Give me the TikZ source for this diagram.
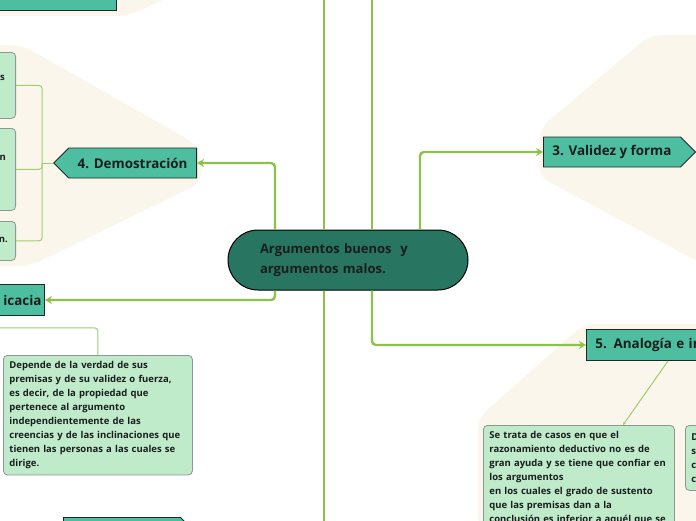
\documentclass[tikz,border=0pt]{standalone}
\usepackage{fontspec}
\setmainfont{Open Sans}
\usetikzlibrary{arrows.meta,shapes.symbols}
\definecolor{branchgreen}{RGB}{139,195,74}
\definecolor{subgreen}{RGB}{160,206,110}
\definecolor{topicteal}{RGB}{77,190,160}
\definecolor{rootgreen}{RGB}{40,117,98}
\definecolor{leafgreen}{RGB}{192,235,203}
\definecolor{leafborder}{RGB}{140,152,146}
\definecolor{cream}{RGB}{250,246,236}
\definecolor{darkline}{RGB}{30,40,36}
\definecolor{inktext}{RGB}{25,30,28}

\begin{document}
\begin{tikzpicture}[x=1pt, y=-1pt, >={Stealth[length=7pt,width=8pt]},
	rootbox/.style={draw=black, fill=rootgreen, line width=1pt, rounded corners=30pt,
		minimum width=240pt, minimum height=60pt, text width=176pt, align=left,
		font=\fontsize{13}{20}\selectfont\bfseries, text=inktext},
	topic/.style={draw=darkline, fill=topicteal, line width=0.9pt, minimum height=30pt,
		inner xsep=9pt, font=\fontsize{13.4}{15}\selectfont\bfseries, text=inktext},
	leaf/.style={draw=leafborder, fill=leafgreen, line width=0.8pt, rounded corners=4pt,
		align=left, inner sep=6pt, font=\fontsize{9.5}{14}\selectfont\bfseries, text=inktext},
	leaftext/.style={inner sep=0pt, font=\fontsize{9.5}{14}\selectfont\bfseries, text=inktext},
	branch/.style={draw=branchgreen, line width=2.4pt, rounded corners=4pt},
	sub/.style={draw=subgreen, line width=1pt, rounded corners=3pt},
	backdrop/.style={fill=cream, rounded corners=12pt}]

	\useasboundingbox (0,0) rectangle (696,520);
	\clip (0,0) rectangle (696,520);

	% 1. Cream backdrops of the groups
	\fill[backdrop] (-10,-10) -- (185,-10) -- (128,16) -- (-10,16) -- cycle;
	\fill[backdrop] (-10,45) -- (22,45) -- (198,145) -- (203,182) -- (30,266) -- (-10,266) -- cycle;
	\fill[backdrop] (710,35) -- (650,35) -- (540,128) -- (538,176) -- (710,268) -- cycle;
	\fill[backdrop] (710,324) -- (584,324) -- (478,418) -- (478,530) -- (710,530) -- cycle;

	% 2. Central idea
	\node[rootbox] (root) at (348,260) {Argumentos buenos\ \ y\\argumentos malos.};

	% 3. Main topics
	\node[topic, signal, signal to=west, anchor=east, minimum width=142pt] (demo) at (197,163) {4. Demostración};
	\node[topic, signal, signal to=east, anchor=west, minimum width=150pt] (valid) at (543,152) {3. Validez y forma};
	\node[topic, anchor=west, minimum height=31pt, text width=140pt, align=left] (anal) at (586,345) {5. Analogía e in};
	\node[topic, anchor=east, minimum height=31pt, text width=90pt, align=right, inner xsep=3pt] (efic) at (45,300) {icacia};
	\node[topic, anchor=south east, minimum width=150pt] (topleft) at (117,11) {};
	\node[topic, signal, signal to=east, anchor=north west, minimum width=132pt] (botleft) at (63,517) {};

	% 4. Leaves
	\node[leaf, anchor=north east, minimum width=60pt, minimum height=66pt] (leafA) at (16,52) {};
	\node[leaf, anchor=north east, minimum width=60pt, minimum height=82pt] (leafB) at (16,128) {};
	\node[leaf, anchor=north east, minimum width=60pt, minimum height=39pt] (leafC) at (16,221) {};
	\node[leaftext, anchor=east] (tailA) at (5,78) {s};
	\node[leaftext, anchor=east] (tailB) at (6,158) {n};
	\node[leaftext, anchor=east] (tailC) at (8,240) {n.};

	\node[leaf, anchor=north west, text width=177pt] (depende) at (3,355)
		{Depende de la verdad de sus\\premisas y de su validez o fuerza,\\es decir, de la propiedad que\\pertenece al argumento\\independientemente de las\\creencias y de las inclinaciones que\\tienen las personas a las cuales se\\dirige.};
	\node[leaf, anchor=north west, text width=179pt] (casos) at (483,425)
		{Se trata de casos en que el\\razonamiento deductivo no es de\\gran ayuda y se tiene que confiar en\\los argumentos\\en los cuales el grado de sustento\\que las premisas dan a la\\conclusión es inferior a aquél que se};
	\node[leaf, anchor=north west, text width=60pt, minimum height=65pt] (otro) at (685,425) {D\\s\\c\\c};

	% 5. Branches from the central idea
	\coordinate (upA) at (324,-10);
	\coordinate (upB) at (372,-10);
	\coordinate (downA) at (324,530);
	\draw[branch] ([xshift=-24pt]root.north) -- (upA);
	\draw[branch] ([xshift=24pt]root.north) -- (upB);
	\draw[branch] ([xshift=-24pt]root.south) -- (downA);
	\draw[branch, ->] ([xshift=-73pt]root.north) |- (demo.east);
	\draw[branch, ->] ([xshift=72pt]root.north) |- (valid.west);
	\draw[branch, ->] ([xshift=-73pt]root.south) |- (efic.east);
	\draw[branch, ->] ([xshift=24pt]root.south) |- (anal.west);

	% 6. Thin connectors to the leaves
	\draw[sub] (demo.west) -- ++(-11,0) coordinate (fork);
	\draw[sub] (fork) |- (leafA.east);
	\draw[sub] (fork) |- (leafB.east);
	\draw[sub] (fork) |- (leafC.east);
	\draw[sub] (efic.south) -- ++(0,12) -| (depende.north);
	\draw[sub, -{Stealth[length=3pt,width=3pt]}] ([xshift=82pt]anal.south west) -- ([xshift=140pt]casos.north west);
\end{tikzpicture}
\end{document}
